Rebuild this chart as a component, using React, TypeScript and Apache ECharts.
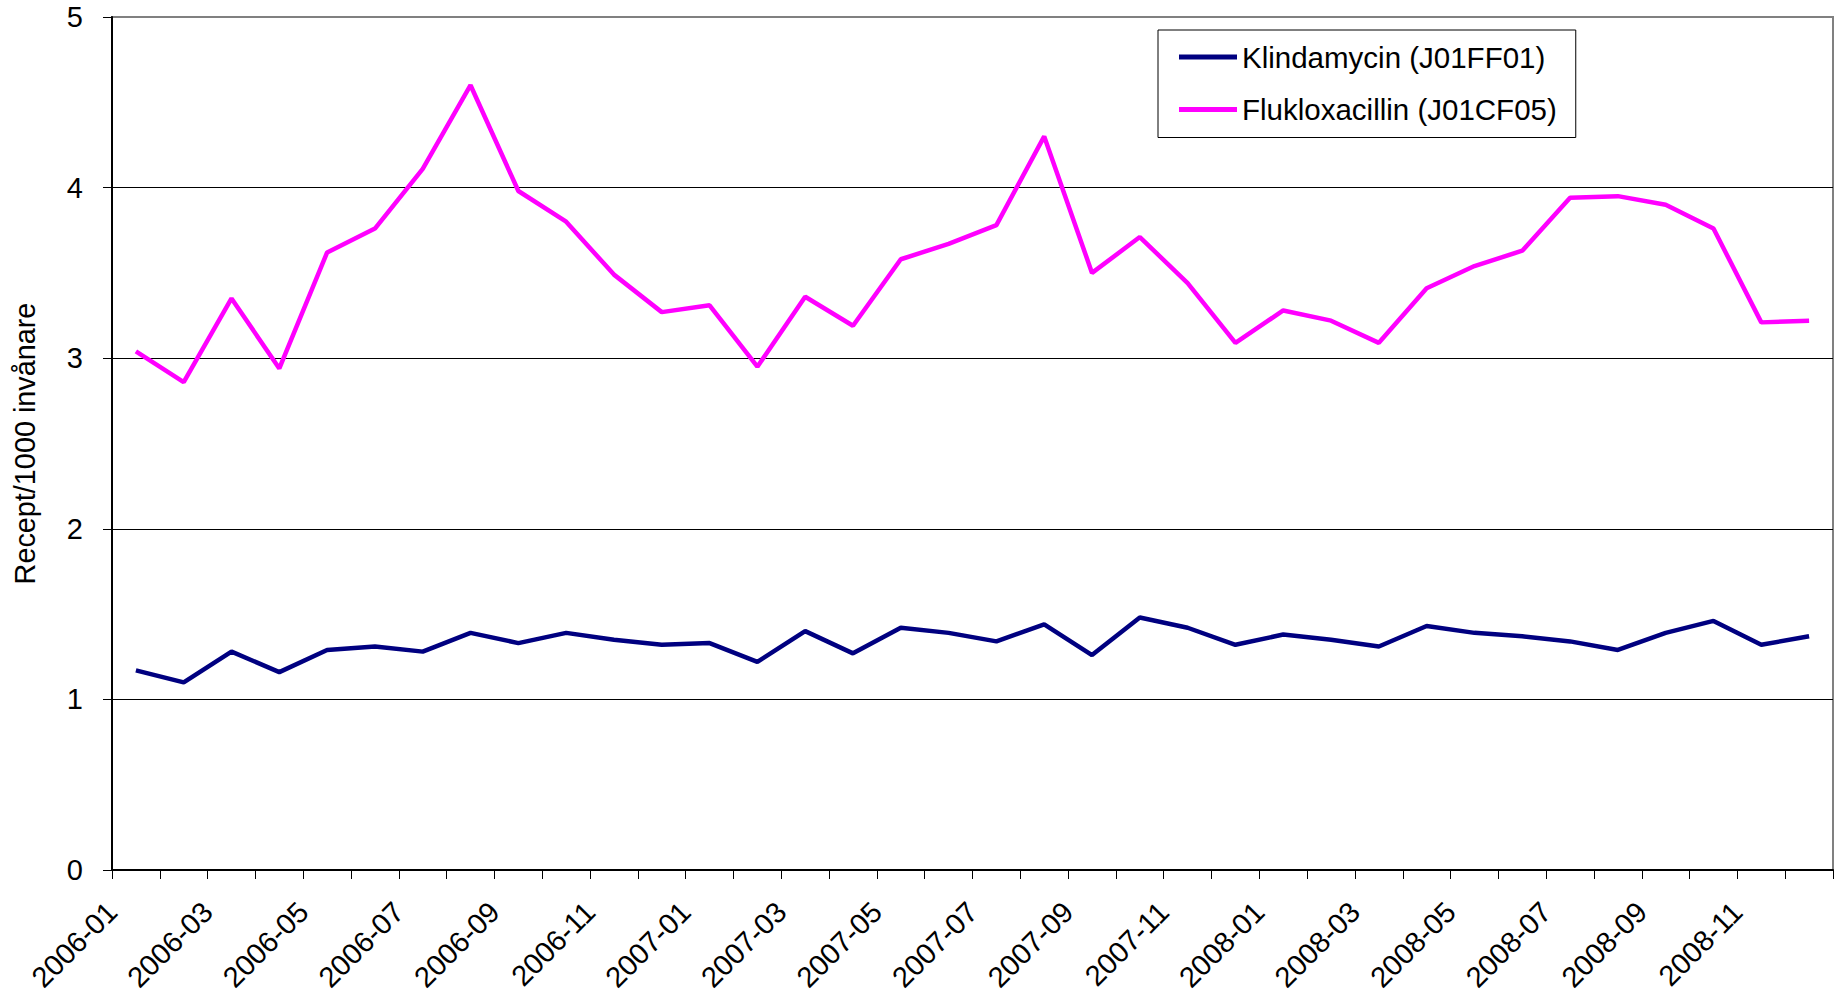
import React, { useEffect, useRef } from "react";
import * as echarts from "echarts";

const months = [
  "2006-01", "2006-02", "2006-03", "2006-04", "2006-05", "2006-06",
  "2006-07", "2006-08", "2006-09", "2006-10", "2006-11", "2006-12",
  "2007-01", "2007-02", "2007-03", "2007-04", "2007-05", "2007-06",
  "2007-07", "2007-08", "2007-09", "2007-10", "2007-11", "2007-12",
  "2008-01", "2008-02", "2008-03", "2008-04", "2008-05", "2008-06",
  "2008-07", "2008-08", "2008-09", "2008-10", "2008-11", "2008-12",
];

const klindamycin = [
  1.17, 1.10, 1.28, 1.16, 1.29, 1.31, 1.28, 1.39, 1.33, 1.39, 1.35, 1.32,
  1.33, 1.22, 1.40, 1.27, 1.42, 1.39, 1.34, 1.44, 1.26, 1.48, 1.42, 1.32,
  1.38, 1.35, 1.31, 1.43, 1.39, 1.37, 1.34, 1.29, 1.39, 1.46, 1.32, 1.37,
];

const flukloxacillin = [
  3.04, 2.86, 3.35, 2.94, 3.62, 3.76, 4.11, 4.60, 3.98, 3.80, 3.49, 3.27,
  3.31, 2.95, 3.36, 3.19, 3.58, 3.67, 3.78, 4.30, 3.50, 3.71, 3.44, 3.09,
  3.28, 3.22, 3.09, 3.41, 3.54, 3.63, 3.94, 3.95, 3.90, 3.76, 3.21, 3.22,
];

const seriesNames = ["Klindamycin (J01FF01)", "Flukloxacillin (J01CF05)"];
const yTitle = "Recept/1000 invånare";

const FONT = "'Liberation Sans', Arial, Helvetica, sans-serif";

export default function App() {
  const ref = useRef<HTMLDivElement>(null);

  useEffect(() => {
    if (!ref.current) return;
    const chart = echarts.init(ref.current, null, { renderer: "svg" });
    chart.setOption({
      animation: false,
      backgroundColor: "#ffffff",
      textStyle: { fontFamily: FONT },
      grid: {
        left: 112,
        right: 4,
        top: 17,
        bottom: 127,
        containLabel: false,
        outerBoundsMode: "none",
        show: true,
        borderColor: "#808080",
        borderWidth: 2,
        backgroundColor: "transparent",
      },
      legend: {
        orient: "vertical",
        left: 1158,
        top: 30,
        padding: [12, 19, 13, 21],
        itemGap: 22.5,
        itemWidth: 58,
        itemHeight: 5,
        borderColor: "#000000",
        borderWidth: 1,
        backgroundColor: "#ffffff",
        textStyle: { fontSize: 29.5, color: "#000", fontFamily: FONT },
        data: [
          { name: seriesNames[0], icon: "rect" },
          { name: seriesNames[1], icon: "rect" },
        ],
      },
      xAxis: [
        {
          type: "category",
          data: months,
          position: "bottom",
          boundaryGap: true,
          axisLine: { show: true, lineStyle: { color: "#000", width: 2 } },
          axisTick: {
            show: true,
            interval: 0,
            length: 9,
            alignWithLabel: false,
            lineStyle: { color: "#000", width: 1 },
          },
          axisLabel: { show: false },
          splitLine: { show: false },
        },
        {
          type: "value",
          position: "bottom",
          min: 0,
          max: months.length,
          interval: 2,
          axisLine: { show: false },
          axisTick: { show: false },
          splitLine: { show: false },
          axisLabel: {
            show: true,
            rotate: 45,
            margin: 37,
            fontSize: 29,
            color: "#000",
            fontFamily: FONT,
            formatter: (v: number) => (months[v] !== undefined ? months[v] : ""),
          },
        },
      ],
      yAxis: {
        type: "value",
        min: 0,
        max: 5,
        interval: 1,
        name: yTitle,
        nameLocation: "middle",
        nameGap: 73,
        nameRotate: 90,
        nameTextStyle: { fontSize: 28.8, color: "#000", fontFamily: FONT },
        axisLine: { show: true, lineStyle: { color: "#000", width: 2 } },
        axisTick: { show: true, length: 9, lineStyle: { color: "#000", width: 1 } },
        axisLabel: { margin: 29, fontSize: 29, color: "#000", fontFamily: FONT },
        splitLine: {
          show: true,
          lineStyle: {
            color: ["#000", "#000", "#000", "#000", "#000", "#808080"],
            width: 1,
          },
        },
      },
      series: [
        {
          name: seriesNames[0],
          type: "line",
          xAxisIndex: 0,
          data: klindamycin,
          symbol: "none",
          lineStyle: { color: "#000080", width: 4.5 },
          itemStyle: { color: "#000080" },
          z: 3,
        },
        {
          name: seriesNames[1],
          type: "line",
          xAxisIndex: 0,
          data: flukloxacillin,
          symbol: "none",
          lineStyle: { color: "#FF00FF", width: 4.5 },
          itemStyle: { color: "#FF00FF" },
          z: 3,
        },
      ],
    });
    return () => chart.dispose();
  }, []);

  return (
    <div
      ref={ref}
      style={{ position: "absolute", left: 0, top: 0, width: 1837, height: 997 }}
    />
  );
}
